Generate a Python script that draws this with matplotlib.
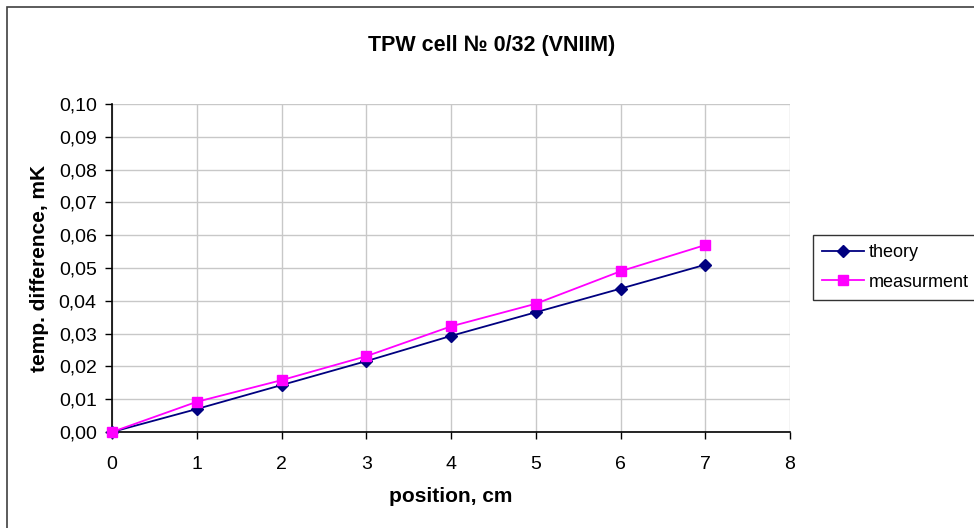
import matplotlib.pyplot as plt
from matplotlib.patches import Rectangle
from matplotlib.ticker import FuncFormatter

plt.rcParams['font.family'] = ['Liberation Sans', 'DejaVu Sans']

# values
position = [0, 1, 2, 3, 4, 5, 6, 7]
theory = [0.0, 0.0070, 0.0143, 0.0216, 0.0293, 0.0365, 0.0437, 0.0510]
measurment = [0.0, 0.0092, 0.0158, 0.0231, 0.0322, 0.0391, 0.0490, 0.0570]

fig = plt.figure(figsize=(9.74, 5.28), dpi=100)
ax = fig.add_axes([112/974, 1-432/528, (790-112)/974, (432-104)/528])

# outer chart border (Excel chart area)
fig.patches.append(Rectangle((7/974, -0.05), 1.2, 1-7/528+0.05, transform=fig.transFigure,
                             fill=False, edgecolor='#404040', linewidth=1.2))

ax.plot(position, theory, color='#000080', marker='D', markersize=6, linewidth=1.3,
        label='theory', clip_on=False, zorder=3)
ax.plot(position, measurment, color='#ff00ff', marker='s', markersize=6.5, linewidth=1.3,
        label='measurment', clip_on=False, zorder=3)

ax.set_xlim(0, 8)
ax.set_ylim(0, 0.10)
ax.set_xticks(range(0, 9))
ax.set_yticks([i/100 for i in range(11)])
ax.yaxis.set_major_formatter(FuncFormatter(lambda v, p: f"{v:.2f}".replace('.', ',')))
ax.grid(True, color='#c8c8c8', linewidth=1)
ax.set_axisbelow(True)
for s in ['top', 'right']:
    ax.spines[s].set_visible(False)
for s in ['left', 'bottom']:
    ax.spines[s].set_linewidth(1.2)
ax.tick_params(direction='out', length=5, width=1, labelsize=14)
ax.tick_params(axis='x', pad=12)
ax.tick_params(axis='y', pad=6)

ax.set_xlabel('position, cm', fontsize=15, fontweight='bold', labelpad=10)
ax.set_ylabel('temp. difference, mK', fontsize=15, fontweight='bold', labelpad=7)
fig.text(0.5 + 0.005, 1-45/528, 'TPW cell № 0/32 (VNIIM)', ha='center', va='center',
         fontsize=15.5, fontweight='bold')

leg = ax.legend(loc='upper left', bbox_to_anchor=(813/974, 1-235/528), bbox_transform=fig.transFigure,
                frameon=True, fancybox=False, edgecolor='black', fontsize=13,
                handlelength=2.3, handletextpad=0.3, borderpad=0.5, labelspacing=0.7,
                borderaxespad=0)
leg.get_frame().set_linewidth(1)

plt.savefig('out.png', dpi=100)
